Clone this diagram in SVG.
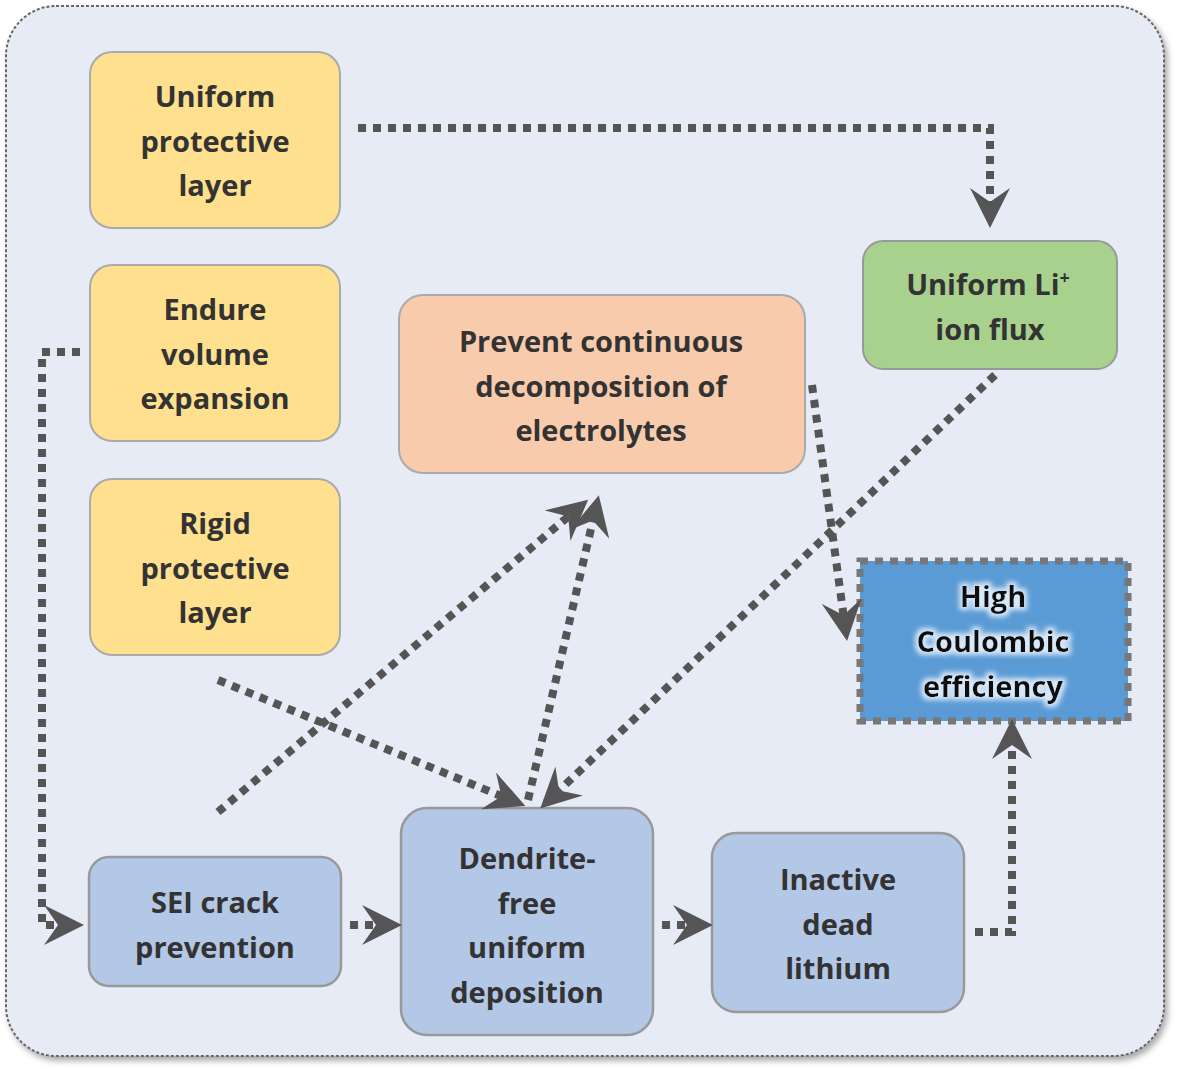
<svg xmlns="http://www.w3.org/2000/svg" width="1181" height="1076" viewBox="0 0 1181 1076">
<defs>
<marker id="ah" viewBox="0 0 20 20" refX="16" refY="10" markerWidth="5" markerHeight="5" orient="auto" markerUnits="strokeWidth">
<path d="M0,0 L20,10 L0,20 L7,10 Z" fill="#555"/>
</marker>
<filter id="sh" x="-5%" y="-5%" width="110%" height="110%"><feDropShadow dx="3" dy="4" stdDeviation="3" flood-color="#000" flood-opacity="0.35"/></filter>
<filter id="glow" x="-10%" y="-20%" width="120%" height="140%"><feMorphology in="SourceAlpha" operator="dilate" radius="3" result="d"/><feGaussianBlur in="d" stdDeviation="2.5" result="b"/><feFlood flood-color="#d8e8f8"/><feComposite in2="b" operator="in" result="g"/><feMerge><feMergeNode in="g"/><feMergeNode in="SourceGraphic"/></feMerge></filter>
</defs>
<style>
.t{font-family:"Open Sans","Liberation Sans",sans-serif;font-weight:bold;font-size:29px;fill:#333;text-anchor:middle}
.y{fill:#ffe08f;stroke:#aaa;stroke-width:2}
.b{fill:#b3c7e6;stroke:#999;stroke-width:2.5}
.c{fill:none;stroke:#555;stroke-width:8;stroke-dasharray:8 7;marker-end:url(#ah)}
.cn{fill:none;stroke:#555;stroke-width:8;stroke-dasharray:8 7}
</style>
<rect x="6" y="6" width="1158" height="1050" rx="50" fill="#e6ebf5" stroke="#666" stroke-width="2" stroke-dasharray="3 2" filter="url(#sh)"/>
<g id="n1"><rect class="y" x="90" y="52" width="250" height="176" rx="22"/><text class="t" x="215" y="107">Uniform</text><text class="t" x="215" y="152">protective</text><text class="t" x="215" y="196">layer</text></g>
<g id="n2"><rect class="y" x="90" y="265" width="250" height="176" rx="22"/><text class="t" x="215" y="320">Endure</text><text class="t" x="215" y="365">volume</text><text class="t" x="215" y="409">expansion</text></g>
<g id="n3"><rect class="y" x="90" y="479" width="250" height="176" rx="22"/><text class="t" x="215" y="534">Rigid</text><text class="t" x="215" y="579">protective</text><text class="t" x="215" y="623">layer</text></g>
<g id="n4"><rect x="399" y="295" width="406" height="178" rx="24" fill="#f8cbad" stroke="#aaa" stroke-width="2"/><text class="t" x="601" y="352">Prevent continuous</text><text class="t" x="601" y="397">decomposition of</text><text class="t" x="601" y="441">electrolytes</text></g>
<g id="n5"><rect x="863" y="241" width="254" height="128" rx="20" fill="#a9d18e" stroke="#999" stroke-width="2"/><text class="t" x="988" y="295">Uniform Li<tspan font-size="18" dy="-11">+</tspan></text><text class="t" x="990" y="340">ion flux</text></g>
<g id="n6"><rect x="860" y="561" width="268" height="160" fill="#5b9bd5" stroke="#777" stroke-width="7" stroke-dasharray="8 7"/><g filter="url(#glow)"><text class="t" x="993" y="607" style="fill:#111">High</text><text class="t" x="993" y="652" style="fill:#111">Coulombic</text><text class="t" x="993" y="697" style="fill:#111">efficiency</text></g></g>
<g id="n7"><rect class="b" x="89" y="857" width="252" height="129" rx="20"/><text class="t" x="215" y="913">SEI crack</text><text class="t" x="215" y="958">prevention</text></g>
<g id="n8"><rect class="b" x="401" y="808" width="252" height="227" rx="26"/><text class="t" x="527" y="869">Dendrite-</text><text class="t" x="527" y="914">free</text><text class="t" x="527" y="958">uniform</text><text class="t" x="527" y="1003">deposition</text></g>
<g id="n9"><rect class="b" x="712" y="833" width="252" height="179" rx="24"/><text class="t" x="838" y="890">Inactive</text><text class="t" x="838" y="935">dead</text><text class="t" x="838" y="979">lithium</text></g>
<g id="connectors">
<path class="c" d="M358,128 H990 V220"/>
<path class="c" d="M80,352 H42 V925 H76"/>
<path class="c" d="M812,385 L846,633"/>
<path class="c" d="M995,375 L546,803"/>
<path class="c" d="M218,680 L518,803"/>
<path class="c" d="M218,812 L582,505"/>
<path class="c" d="M528,800 L597,503"/>
<path class="c" d="M350,925 H394"/>
<path class="c" d="M662,925 H705"/>
<path class="c" d="M975,932 H1012 V727"/>
</g>
</svg>
